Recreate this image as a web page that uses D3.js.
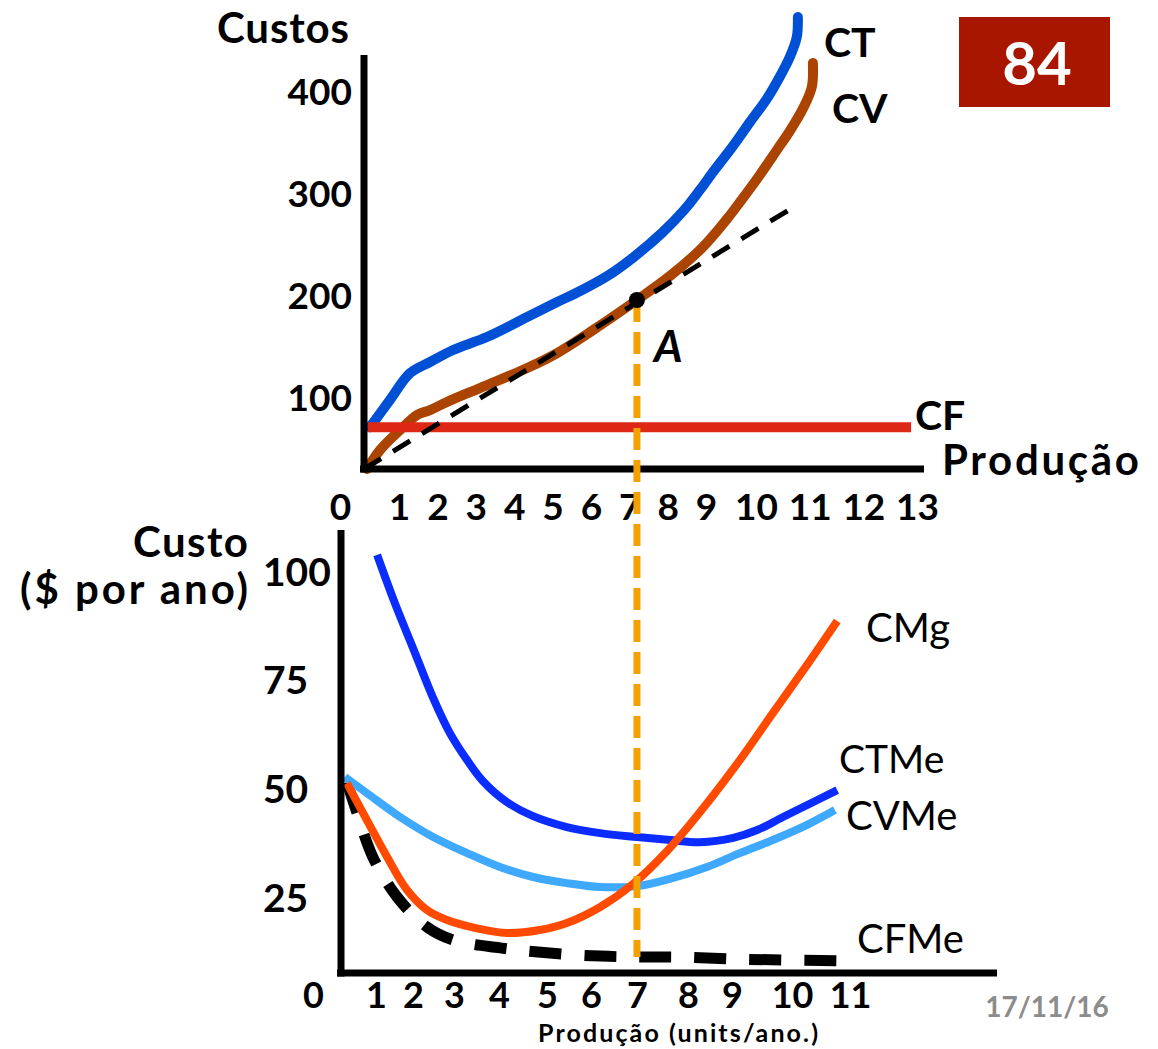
<!DOCTYPE html>
<html>
<head>
<meta charset="utf-8">
<script src="https://cdn.jsdelivr.net/npm/d3@7"></script>
<style>
  html, body { margin: 0; padding: 0; background: #ffffff; }
  svg { display: block; }
  text { font-family: Lato, "Liberation Sans", "DejaVu Sans", sans-serif; }
</style>
</head>
<body>
<svg id="chart" width="1158" height="1049"></svg>
<script>
// ---------- DATA ----------
// Top chart: total, variable, fixed cost vs production
const topTickX = [0, 1, 2, 3, 4, 5, 6, 7, 8, 9, 10, 11, 12, 13];
const topTickY = [100, 200, 300, 400];

const ctQ = [0.17, 0.74, 1.29, 1.81, 2.41, 3.29, 4.34, 5.12, 5.72, 6.47, 7.12, 7.85, 8.43, 8.84, 9.14, 9.54, 9.88, 10.2, 10.41, 10.63, 10.76, 10.78];
const ctV = [58, 95.8, 123.5, 134.3, 146.1, 158.8, 178.4, 193.1, 203.9, 219.6, 237.3, 260.8, 283.3, 302.9, 320.6, 346.1, 369.6, 392.2, 410.8, 433.3, 452.9, 472.5];

const cvQ = [0.09, 0.46, 1.03, 1.47, 1.81, 2.25, 3.11, 4.34, 5.12, 6.06, 7.2, 8.06, 8.92, 9.42, 9.68, 10.07, 10.39, 10.63, 10.88, 11.04, 11.06];
const cvV = [0, 26.4, 54.2, 75, 81.9, 93.1, 108.8, 128.4, 143.1, 165.7, 195.1, 218.6, 247.1, 274.5, 291.2, 317.6, 342.2, 360.8, 383.3, 403.9, 427.5];

const cfQ = [0.11, 12.89];
const cfV = [58, 58];

const tangentQ = [0, 10.6];
const tangentV = [0, 283];

const pointA = { q: 7.2, v: 195.1 };

// Bottom chart: average and marginal costs
const botTickX = [0, 1, 2, 3, 4, 5, 6, 7, 8, 9, 10, 11];
const botTickY = [25, 50, 75, 100];

const ctmeQ = [1.03, 1.51, 2, 2.49, 2.9, 3.29, 3.64, 4.17, 4.71, 5.45, 6.2, 7, 7.65, 8.27, 9.02, 9.42, 9.85, 10.36, 10.78];
const ctmeV = [103.7, 92.6, 82.3, 70.8, 62.7, 56.5, 51.7, 46.8, 43.6, 41.1, 39.7, 38.8, 38.1, 37.6, 38.6, 40.4, 43.4, 46.8, 49.6];

const cvmeQ = [0.11, 0.74, 1.65, 2.49, 3.29, 4.02, 4.71, 5.45, 6.2, 7, 7.71, 8.43, 9.13, 9.68, 10.26, 10.74];
const cvmeV = [52.6, 48.9, 43.4, 38.8, 35.1, 31.9, 29.6, 28.2, 27.3, 27.5, 29.4, 31.9, 35.1, 38.1, 41.6, 45];

const cmgQ = [0.17, 0.74, 1.3, 1.84, 2.34, 2.83, 3.46, 4.17, 4.85, 5.45, 6.2, 6.91, 7.59, 8.27, 9.13, 9.68, 10.26, 10.78];
const cmgV = [51.2, 42.7, 34.2, 26.6, 22, 19.7, 17.9, 16.7, 17.4, 19, 22.7, 28, 35.6, 44.5, 56.5, 67.3, 78.4, 88.5];

const cfmeQ = [0.17, 0.46, 0.91, 1.57, 2.34, 2.98, 4.02, 5.06, 6.2, 7.06, 7.78, 9.13, 10.83];
const cfmeV = [51.4, 44.3, 34.2, 25, 18.1, 15.1, 13.3, 12.1, 11.4, 11.2, 11.2, 10.7, 10.3];

const vlineBottomV = 11.2;

// ---------- SCALES ----------
const svg = d3.select("#chart");
const FONT = 'Lato, "Liberation Sans", "DejaVu Sans", sans-serif';

const xTop = d3.scaleLinear().domain([0, 1, 9, 10, 13]).range([364, 399, 706, 756, 917]);
const yTop = d3.scaleLinear().domain([0, 100, 400]).range([469, 397, 91]);

const xBot = d3.scaleLinear().domain(botTickX).range([341, 376, 413, 454, 499, 547, 591, 637, 688, 732, 792, 850]);
const yBot = d3.scaleLinear().domain([25, 100]).range([897, 571]);
const botAxisY = 973;

const zip = (q, v) => q.map((d, i) => [d, v[i]]);

function drawCurve(g, xs, ys, q, v, color, width, dash, curve) {
  const gen = d3.line().x(d => xs(d[0])).y(d => ys(d[1])).curve(curve || d3.curveCatmullRom.alpha(0.5));
  const p = g.append("path")
    .attr("d", gen(zip(q, v)))
    .attr("fill", "none")
    .attr("stroke", color)
    .attr("stroke-width", width)
    .attr("stroke-linecap", dash ? "butt" : "round")
    .attr("stroke-linejoin", "round");
  if (dash) p.attr("stroke-dasharray", dash);
  return p;
}

const lbl = (x, y, t, size, weight, anchor, fill, style, len) => {
  const el = svg.append("text")
    .attr("x", x).attr("y", y).text(t)
    .style("font-family", FONT).style("font-size", size + "px")
    .style("font-weight", weight).style("font-style", style || "normal")
    .attr("text-anchor", anchor || "start").attr("fill", fill || "#000");
  if (len) el.attr("textLength", len).attr("lengthAdjust", "spacing");
  return el;
};

// ---------- TOP CHART ----------
const gTop = svg.append("g");

drawCurve(gTop, xTop, yTop, ctQ, ctV, "#0050d6", 10);
drawCurve(gTop, xTop, yTop, cvQ, cvV, "#ab4400", 10);
drawCurve(gTop, xTop, yTop, cfQ, cfV, "#dc2814", 10, null, d3.curveLinear).attr("stroke-linecap", "butt");
drawCurve(gTop, xTop, yTop, tangentQ, tangentV, "#000000", 5, "20,14", d3.curveLinear);

gTop.append("line").attr("x1", xTop(0)).attr("x2", xTop(0))
  .attr("y1", 55).attr("y2", yTop(0) + 3.5)
  .attr("stroke", "#000").attr("stroke-width", 7);
gTop.append("line").attr("x1", xTop(0) - 4).attr("x2", xTop(13) + 7)
  .attr("y1", yTop(0)).attr("y2", yTop(0))
  .attr("stroke", "#000").attr("stroke-width", 7);

const axTopX = gTop.append("g").attr("transform", `translate(0,${yTop(0)})`)
  .call(d3.axisBottom(xTop).tickValues(topTickX).tickSize(0).tickFormat(d3.format("d")));
axTopX.select(".domain").remove();
axTopX.selectAll("text")
  .attr("y", 51).attr("dy", 0)
  .attr("dx", d => d === 0 ? -24 : 0)
  .style("font-family", FONT).style("font-size", "37px").style("font-weight", 700).attr("fill", "#000");

const axTopY = gTop.append("g").attr("transform", `translate(${xTop(0)},0)`)
  .call(d3.axisLeft(yTop).tickValues(topTickY).tickSize(0).tickFormat(d3.format("d")));
axTopY.select(".domain").remove();
axTopY.selectAll("text")
  .attr("x", -12).attr("dy", "0.36em")
  .style("font-family", FONT).style("font-size", "37px").style("font-weight", 700).attr("fill", "#000");

lbl(217, 43, "Custos", 42, 700, "start", "#000", null, 132);
lbl(824, 57, "CT", 41, 700);
lbl(832, 123, "CV", 41, 700);
lbl(915, 430, "CF", 41, 700);
lbl(942, 475, "Produção", 42, 700, "start", "#000", null, 197);

// ---------- BOTTOM CHART ----------
const gBot = svg.append("g");

drawCurve(gBot, xBot, yBot, cfmeQ, cfmeV, "#000000", 11, "32,23");
drawCurve(gBot, xBot, yBot, cvmeQ, cvmeV, "#3fa9ff", 8).attr("stroke-linecap", "butt");
drawCurve(gBot, xBot, yBot, ctmeQ, ctmeV, "#0a2cff", 8).attr("stroke-linecap", "butt");
drawCurve(gBot, xBot, yBot, cmgQ, cmgV, "#ff4a00", 8).attr("stroke-linecap", "butt");

gBot.append("line").attr("x1", xBot(0)).attr("x2", xBot(0))
  .attr("y1", 530).attr("y2", botAxisY + 3.5)
  .attr("stroke", "#000").attr("stroke-width", 7);
gBot.append("line").attr("x1", xBot(0) - 4).attr("x2", 997)
  .attr("y1", botAxisY).attr("y2", botAxisY)
  .attr("stroke", "#000").attr("stroke-width", 7);

const axBotX = gBot.append("g").attr("transform", `translate(0,${botAxisY})`)
  .call(d3.axisBottom(xBot).tickValues(botTickX).tickSize(0).tickFormat(d3.format("d")));
axBotX.select(".domain").remove();
axBotX.selectAll("text")
  .attr("y", 35).attr("dy", 0)
  .attr("dx", d => d === 0 ? -28 : 0)
  .style("font-family", FONT).style("font-size", "36px").style("font-weight", 700).attr("fill", "#000");

const axBotY = gBot.append("g").attr("transform", `translate(${xBot(0)},0)`)
  .call(d3.axisLeft(yBot).tickValues(botTickY).tickSize(0).tickFormat(d3.format("d")));
axBotY.select(".domain").remove();
axBotY.selectAll("text")
  .attr("x", -78).attr("dy", "0.36em").attr("text-anchor", "start")
  .style("font-family", FONT).style("font-size", "39px").style("font-weight", 700).attr("fill", "#000");

lbl(248, 557, "Custo", 42, 700, "end", "#000", null, 115);
lbl(248, 604, "($ por ano)", 42, 700, "end", "#000", null, 228);
lbl(866, 642, "CMg", 40, 400);
lbl(839, 773, "CTMe", 39, 400);
lbl(846, 830, "CVMe", 40, 400);
lbl(857, 953, "CFMe", 40, 400);
lbl(538, 1042, "Produção (units/ano.)", 25, 700, "start", "#000", null, 280);
lbl(1047, 1017, "17/11/16", 28, 700, "middle", "#8c8c8c");

// ---------- LINK BETWEEN CHARTS ----------
svg.append("line")
  .attr("x1", xTop(pointA.q)).attr("y1", yTop(pointA.v))
  .attr("x2", xBot(7)).attr("y2", yBot(vlineBottomV))
  .attr("stroke", "#f2a100").attr("stroke-width", 7)
  .attr("stroke-dasharray", "22,10");

svg.append("circle")
  .attr("cx", xTop(pointA.q)).attr("cy", yTop(pointA.v)).attr("r", 8)
  .attr("fill", "#000");
lbl(654, 362, "A", 44, 700, "start", "#000", "italic");

// ---------- PAGE NUMBER BOX ----------
svg.append("rect").attr("x", 959).attr("y", 17).attr("width", 151).attr("height", 90).attr("fill", "#a81600");
lbl(1037, 85, "84", 60, 700, "middle", "#ffffff");
</script>
</body>
</html>
